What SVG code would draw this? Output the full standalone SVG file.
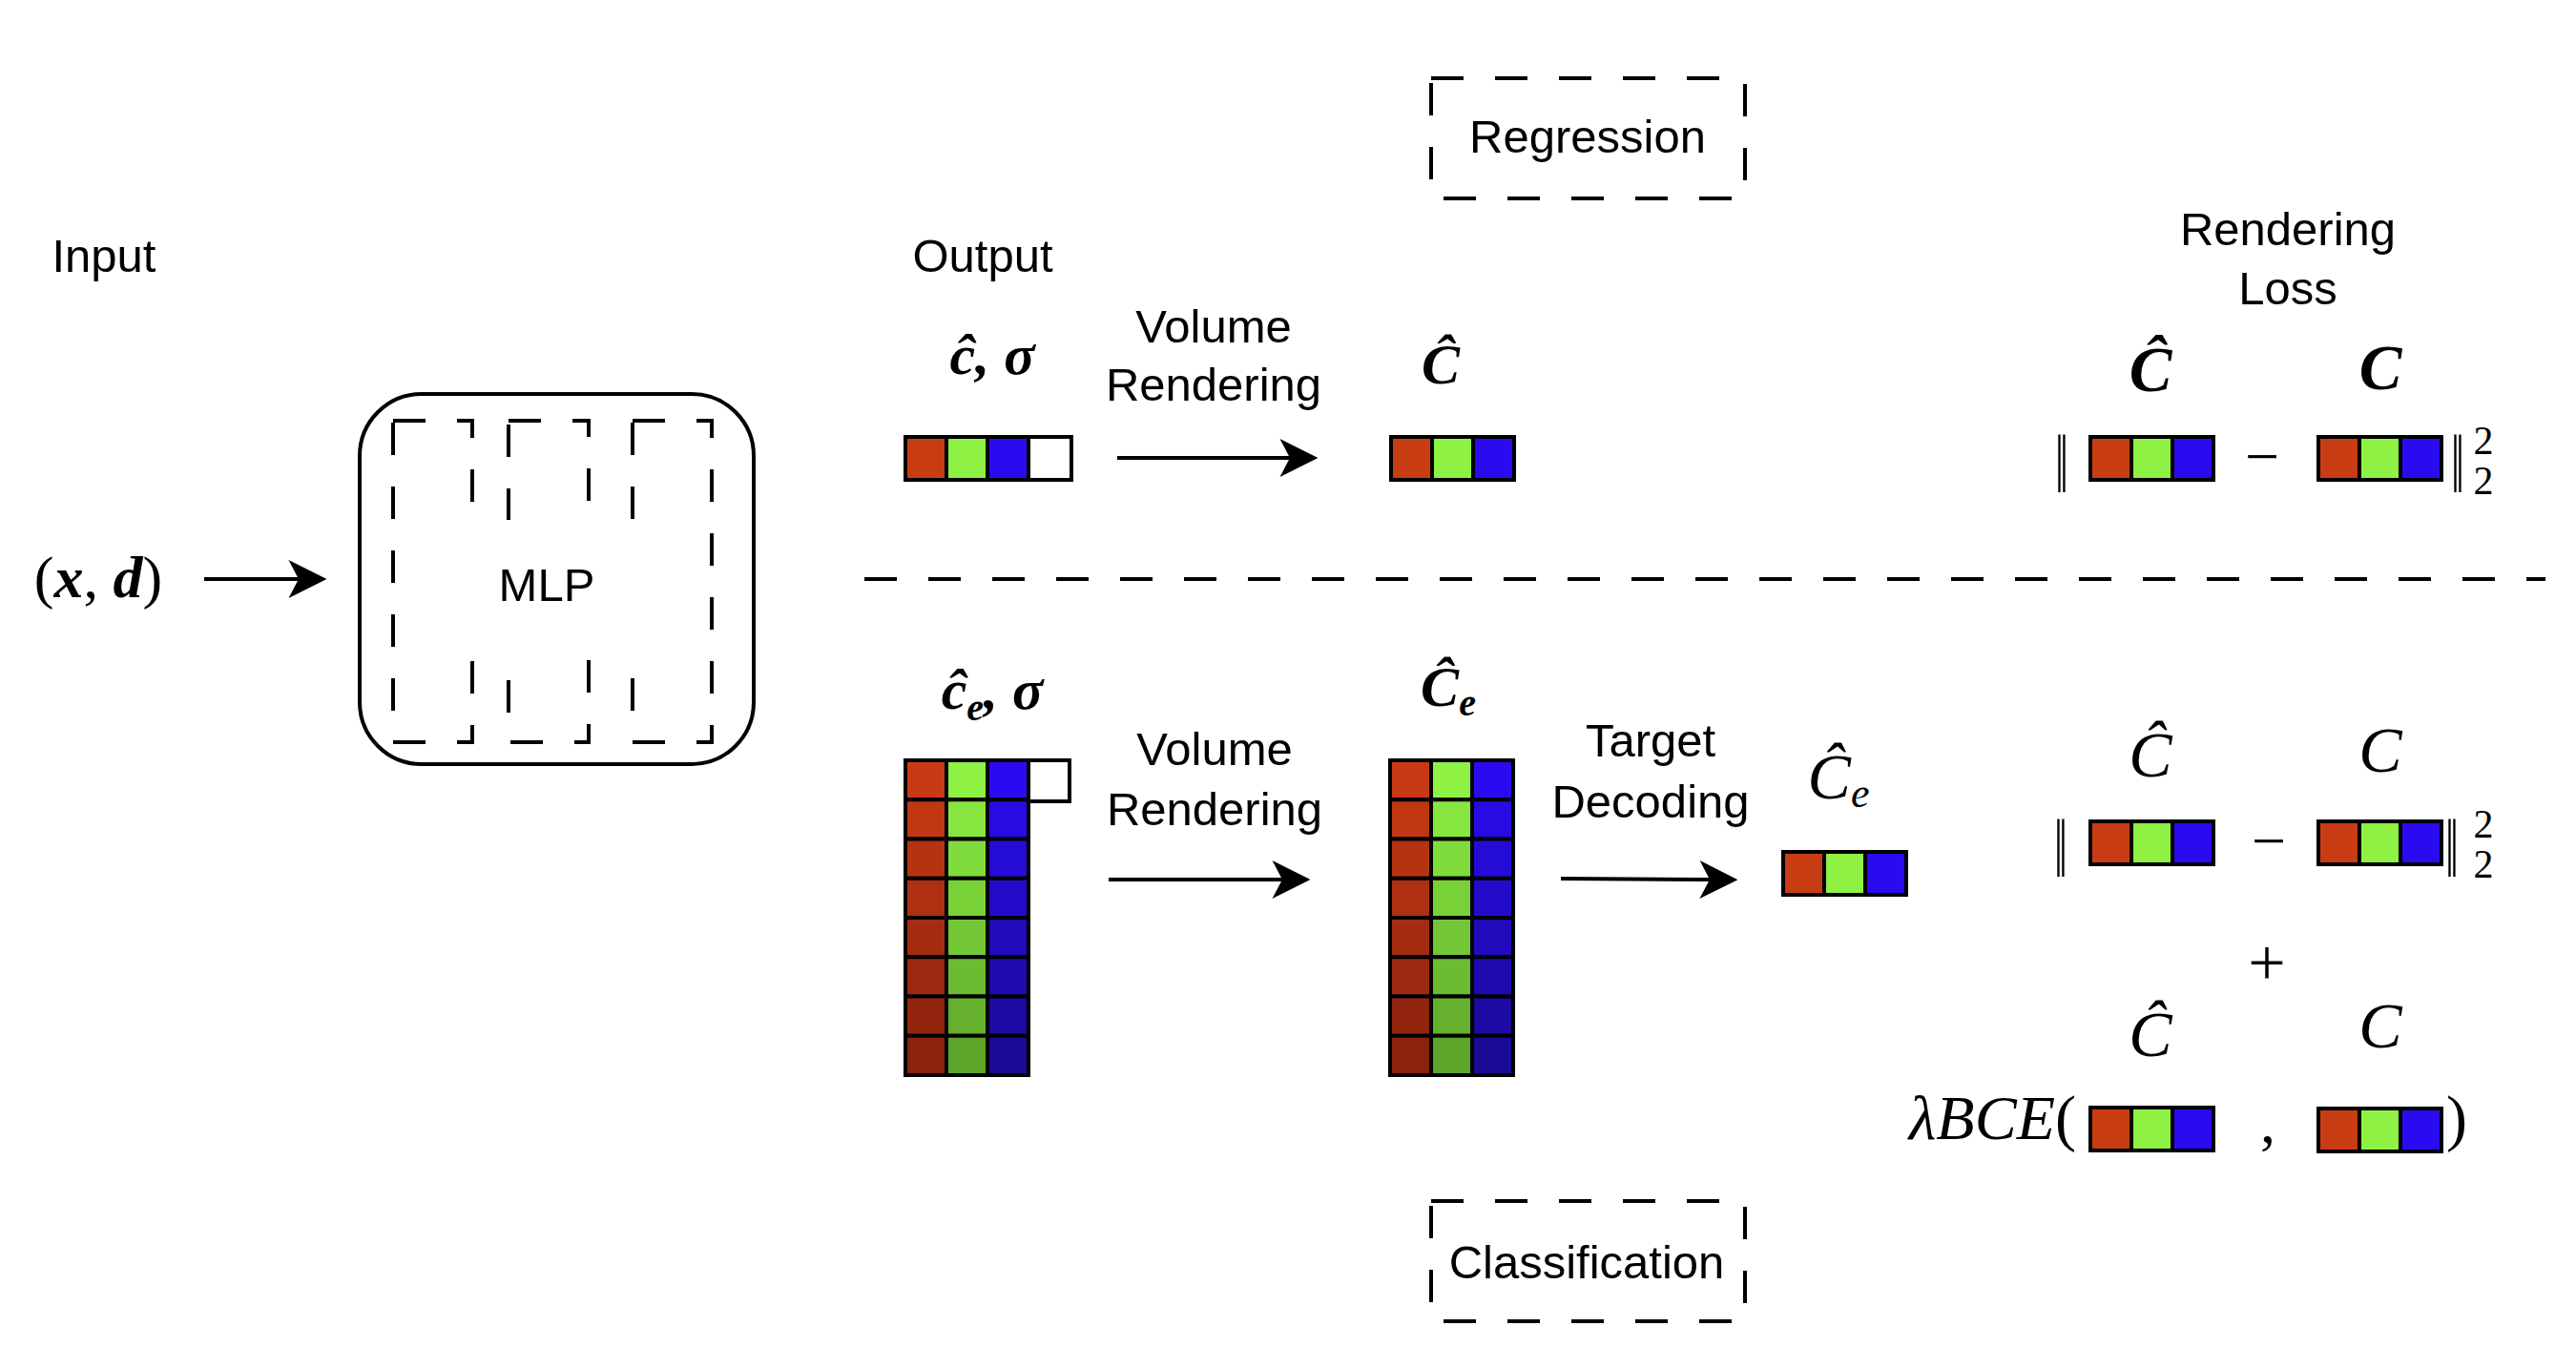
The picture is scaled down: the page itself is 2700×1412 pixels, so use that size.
<svg xmlns="http://www.w3.org/2000/svg" xmlns:xlink="http://www.w3.org/1999/xlink" width="2700" height="1412" viewBox="0 0 2700 1412">
<style>
.lbl{font-family:"Liberation Sans",Arial,sans-serif;font-size:49px;fill:#000;text-anchor:middle}
.m{font-family:"Liberation Serif","DejaVu Serif",serif;fill:#000;text-anchor:middle}
.bi{font-weight:bold;font-style:italic}
.it{font-style:italic}
.dash{fill:none;stroke:#000;stroke-width:4;stroke-dasharray:34 33}
.line{fill:none;stroke:#000;stroke-width:4}
.c{stroke:#000;stroke-width:4}
</style>
<defs>
<marker id="ah" markerUnits="userSpaceOnUse" markerWidth="40" markerHeight="40" viewBox="0 0 38 38" refX="10" refY="19" orient="auto">
<path d="M0,0 L38,19 L0,38 L10,19 Z" fill="#000"/>
</marker>
<g id="rgb3">
<rect class="c" x="0" y="0" width="43" height="45" fill="#C83C14"/>
<rect class="c" x="43" y="0" width="43" height="45" fill="#8EF143"/>
<rect class="c" x="86" y="0" width="43" height="45" fill="#2A0BEF"/>
</g>
<g id="col">
<rect class="c" x="0" y="0" width="43" height="41.25" fill="#C83A14"/><rect class="c" x="43" y="0" width="43" height="41.25" fill="#8EF143"/><rect class="c" x="86" y="0" width="43" height="41.25" fill="#2A0BEF"/>
<rect class="c" x="0" y="41.25" width="43" height="41.25" fill="#BF3713"/><rect class="c" x="43" y="41.25" width="43" height="41.25" fill="#87E63F"/><rect class="c" x="86" y="41.25" width="43" height="41.25" fill="#280BE2"/>
<rect class="c" x="0" y="82.5" width="43" height="41.25" fill="#B63312"/><rect class="c" x="43" y="82.5" width="43" height="41.25" fill="#80DC3C"/><rect class="c" x="86" y="82.5" width="43" height="41.25" fill="#250BD6"/>
<rect class="c" x="0" y="123.75" width="43" height="41.25" fill="#AD3011"/><rect class="c" x="43" y="123.75" width="43" height="41.25" fill="#79D138"/><rect class="c" x="86" y="123.75" width="43" height="41.25" fill="#230BC9"/>
<rect class="c" x="0" y="165" width="43" height="41.25" fill="#A52C11"/><rect class="c" x="43" y="165" width="43" height="41.25" fill="#73C635"/><rect class="c" x="86" y="165" width="43" height="41.25" fill="#210ABC"/>
<rect class="c" x="0" y="206.25" width="43" height="41.25" fill="#9C2910"/><rect class="c" x="43" y="206.25" width="43" height="41.25" fill="#6CBB31"/><rect class="c" x="86" y="206.25" width="43" height="41.25" fill="#1F0AAF"/>
<rect class="c" x="0" y="247.5" width="43" height="41.25" fill="#93250F"/><rect class="c" x="43" y="247.5" width="43" height="41.25" fill="#65B12E"/><rect class="c" x="86" y="247.5" width="43" height="41.25" fill="#1C0AA3"/>
<rect class="c" x="0" y="288.75" width="43" height="41.25" fill="#8A220E"/><rect class="c" x="43" y="288.75" width="43" height="41.25" fill="#5EA62A"/><rect class="c" x="86" y="288.75" width="43" height="41.25" fill="#1A0A96"/>
</g>
</defs>
<rect width="2700" height="1412" fill="#fff"/>

<g id="input">
<text class="lbl" x="109" y="285">Input</text>
<text class="m" x="103" y="626" font-size="62">(<tspan class="bi">x</tspan>, <tspan class="bi">d</tspan>)</text>
</g>

<g id="mlp">
<rect class="line" x="377" y="413" width="413" height="388" rx="65" ry="65"/>
<rect class="dash" x="412" y="441" width="83" height="337"/>
<rect class="dash" x="533" y="441" width="84" height="337"/>
<rect class="dash" x="663" y="441" width="83" height="337"/>
<rect x="489" y="545" width="181" height="147" fill="#fff"/>
<text class="lbl" x="573" y="630">MLP</text>
</g>

<g id="output-label">
<text class="lbl" x="1030" y="285">Output</text>
</g>

<g id="reg-output">
<text class="m bi" x="1040" y="392" font-size="60">ĉ, σ</text>
<use xlink:href="#rgb3" x="949" y="458"/>
<rect class="c" x="1078" y="458" width="45" height="45" fill="#fff"/>
</g>

<g id="vr-label-top">
<text class="lbl" x="1272" y="359">Volume</text>
<text class="lbl" x="1272" y="420">Rendering</text>
</g>

<g id="reg-C">
<text class="m bi" x="1510" y="402" font-size="60">Ĉ</text>
<use xlink:href="#rgb3" x="1458" y="458"/>
</g>

<g id="regression">
<rect class="dash" x="1500" y="82" width="329" height="126"/>
<text class="lbl" x="1664" y="160">Regression</text>
</g>

<g id="rendering-loss-label">
<text class="lbl" x="2398" y="257">Rendering</text>
<text class="lbl" x="2398" y="319">Loss</text>
</g>

<g id="reg-loss">
<text class="m bi" x="2254" y="410" font-size="67">Ĉ</text>
<text class="m bi" x="2495" y="408" font-size="67">C</text>
<text class="m" font-size="62" transform="translate(2161,516) scale(0.8,1.4)">‖</text>
<use xlink:href="#rgb3" x="2191" y="458"/>
<text class="m" x="2371" y="500" font-size="64">−</text>
<use xlink:href="#rgb3" x="2430" y="458"/>
<text class="m" font-size="62" transform="translate(2576,516) scale(0.8,1.4)">‖</text>
<text class="m" x="2603" y="476" font-size="42">2</text>
<text class="m" x="2603" y="518" font-size="42">2</text>
</g>

<g id="cls-output">
<text class="m bi" x="1040" y="743" font-size="60">ĉ<tspan font-size="40" dy="12">e</tspan><tspan dy="-12">, σ</tspan></text>
<use xlink:href="#col" x="949" y="797"/>
<rect class="c" x="1078" y="797" width="43" height="43" fill="#fff"/>
</g>

<g id="vr-label-bottom">
<text class="lbl" x="1273" y="802">Volume</text>
<text class="lbl" x="1273" y="865">Rendering</text>
</g>

<g id="cls-Ce">
<text class="m bi" x="1518" y="740" font-size="60">Ĉ<tspan font-size="40" dy="10">e</tspan></text>
<use xlink:href="#col" x="1457" y="797"/>
</g>

<g id="td-label">
<text class="lbl" x="1730" y="793">Target</text>
<text class="lbl" x="1730" y="857">Decoding</text>
</g>

<g id="decoded-Ce">
<text class="m it" x="1927" y="837" font-size="68">Ĉ<tspan font-size="44" dy="9">e</tspan></text>
<use xlink:href="#rgb3" x="1869" y="893"/>
</g>

<g id="cls-loss">
<text class="m it" x="2254" y="814" font-size="68">Ĉ</text>
<text class="m it" x="2495" y="809" font-size="68">C</text>
<text class="m" font-size="62" transform="translate(2160,919) scale(0.8,1.4)">‖</text>
<use xlink:href="#rgb3" x="2191" y="861"/>
<text class="m" x="2378" y="903" font-size="64">−</text>
<use xlink:href="#rgb3" x="2430" y="861"/>
<text class="m" font-size="62" transform="translate(2570,919) scale(0.8,1.4)">‖</text>
<text class="m" x="2603" y="878" font-size="42">2</text>
<text class="m" x="2603" y="920" font-size="42">2</text>
<text class="m" x="2376" y="1033" font-size="70">+</text>
<text class="m it" x="2254" y="1107" font-size="68">Ĉ</text>
<text class="m it" x="2495" y="1098" font-size="68">C</text>
<text class="m" x="2176" y="1194" font-size="66" style="text-anchor:end"><tspan class="it">λBCE</tspan>(</text>
<use xlink:href="#rgb3" x="2191" y="1161"/>
<text class="m" x="2377" y="1198" font-size="64">,</text>
<use xlink:href="#rgb3" x="2430" y="1162"/>
<text class="m" x="2575" y="1194" font-size="66">)</text>
</g>

<g id="classification">
<rect class="dash" x="1500" y="1259" width="329" height="126"/>
<text class="lbl" x="1663" y="1340">Classification</text>
</g>

<g id="connectors">
<line class="line" x1="214" y1="607" x2="313" y2="607" marker-end="url(#ah)"/>
<line class="line" x1="1171" y1="480" x2="1352" y2="480" marker-end="url(#ah)"/>
<line class="line" x1="1162" y1="922" x2="1344" y2="922" marker-end="url(#ah)"/>
<line class="line" x1="1636" y1="921" x2="1792" y2="922" marker-end="url(#ah)"/>
<line class="dash" x1="906" y1="607" x2="2668" y2="607"/>
</g>
</svg>
